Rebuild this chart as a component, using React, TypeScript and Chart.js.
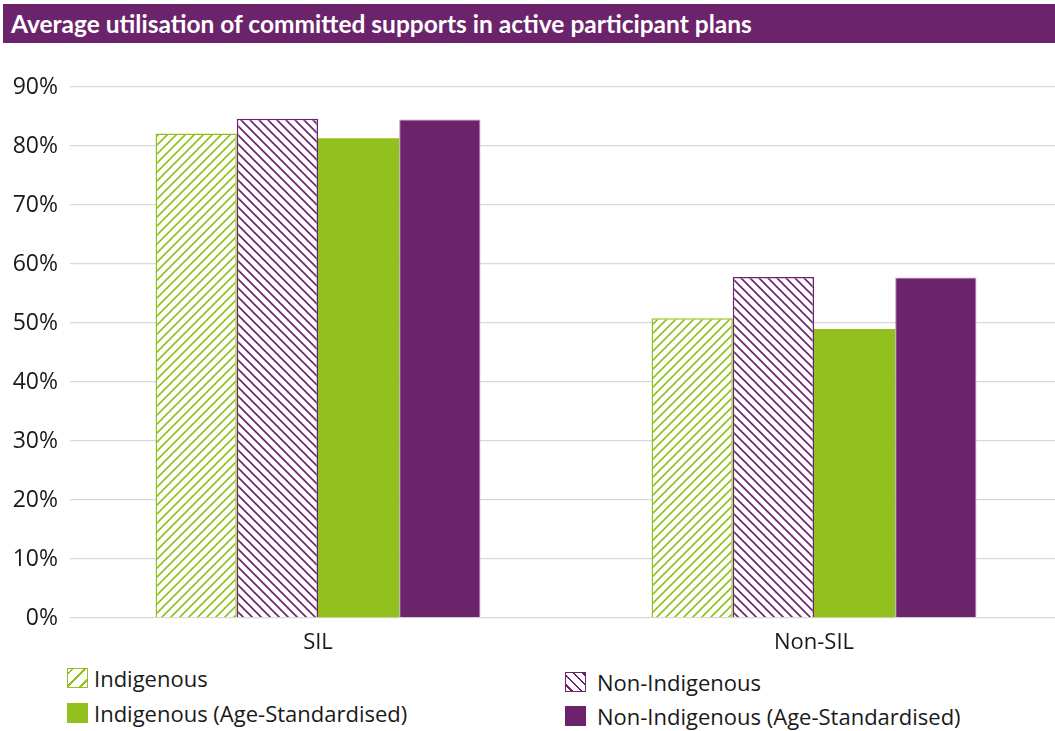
import React, { useEffect, useRef } from "react";
import { Chart, registerables } from "chart.js";

Chart.register(...registerables);

const categories = ["SIL", "Non-SIL"];
const indigenous = [82.1, 50.8];
const nonIndigenous = [84.6, 57.8];
const indigenousAS = [81.3, 49.0];
const nonIndigenousAS = [84.5, 57.7];
const seriesNames = [
  "Indigenous",
  "Non-Indigenous",
  "Indigenous (Age-Standardised)",
  "Non-Indigenous (Age-Standardised)",
];
const yTicks = [0, 10, 20, 30, 40, 50, 60, 70, 80, 90];
const title = "Average utilisation of committed supports in active participant plans";

const GREEN = "#92C01F";
const PURPLE = "#6B246C";
const FONT = "'Open Sans', Lato, sans-serif";
const TITLE_FONT = "Lato, 'Open Sans', sans-serif";

function makeHatch(color: string, dir: "up" | "down") {
  const size = 9;
  const c = document.createElement("canvas");
  c.width = size;
  c.height = size;
  const ctx = c.getContext("2d")!;
  ctx.fillStyle = "#ffffff";
  ctx.fillRect(0, 0, size, size);
  ctx.strokeStyle = color;
  ctx.lineWidth = 1.6;
  ctx.beginPath();
  if (dir === "up") {
    ctx.moveTo(-1, size + 1);
    ctx.lineTo(size + 1, -1);
    ctx.moveTo(-1, 1);
    ctx.lineTo(1, -1);
    ctx.moveTo(size - 1, size + 1);
    ctx.lineTo(size + 1, size - 1);
  } else {
    ctx.moveTo(-1, -1);
    ctx.lineTo(size + 1, size + 1);
    ctx.moveTo(size - 1, -1);
    ctx.lineTo(size + 1, 1);
    ctx.moveTo(-1, size - 1);
    ctx.lineTo(1, size + 1);
  }
  ctx.stroke();
  return ctx.createPattern(c, "repeat")!;
}

function LegendBox({ kind, gap }: { kind: number; gap: number }) {
  const style: React.CSSProperties = {
    width: 21,
    height: 20,
    boxSizing: "border-box",
    display: "inline-block",
    marginRight: gap,
    flex: "none",
  };
  if (kind === 0) {
    style.border = `1.5px solid ${GREEN}`;
    style.background = `repeating-linear-gradient(-45deg, #fff 0 4px, ${GREEN} 4px 6px, #fff 6px 9px)`;
  } else if (kind === 1) {
    style.border = `1.5px solid ${PURPLE}`;
    style.background = `repeating-linear-gradient(45deg, #fff 0 3px, ${PURPLE} 3px 5px, #fff 5px 7px)`;
  } else if (kind === 2) {
    style.background = GREEN;
  } else {
    style.background = PURPLE;
  }
  return <span style={style} />;
}

export default function App() {
  const ref = useRef<HTMLCanvasElement>(null);
  useEffect(() => {
    const ctx = ref.current!.getContext("2d")!;
    const hatchGreen = makeHatch(GREEN, "up");
    const hatchPurple = makeHatch(PURPLE, "down");
    const chart = new Chart(ctx, {
      type: "bar",
      data: {
        labels: categories,
        datasets: [
          {
            label: seriesNames[0],
            data: indigenous,
            backgroundColor: hatchGreen,
            borderColor: GREEN,
            borderWidth: 1.5,
          },
          {
            label: seriesNames[1],
            data: nonIndigenous,
            backgroundColor: hatchPurple,
            borderColor: PURPLE,
            borderWidth: 1.5,
          },
          {
            label: seriesNames[2],
            data: indigenousAS,
            backgroundColor: GREEN,
            borderWidth: 0,
          },
          {
            label: seriesNames[3],
            data: nonIndigenousAS,
            backgroundColor: PURPLE,
            borderColor: "#B58AB5",
            borderWidth: 1,
          },
        ],
      },
      options: {
        animation: false,
        responsive: false,
        maintainAspectRatio: false,
        layout: { padding: { top: 37, right: 0, left: 0, bottom: 0 } },
        datasets: { bar: { barPercentage: 1, categoryPercentage: 0.655 } },
        plugins: {
          legend: { display: false },
          tooltip: { enabled: false },
          title: { display: false },
        },
        scales: {
          x: {
            grid: { display: false },
            border: { display: false },
            ticks: {
              color: "#1a1a1a",
              font: { family: FONT, size: 22 },
              padding: 4,
            },
            afterFit: (s: any) => {
              s.height = 42;
            },
          },
          y: {
            min: 0,
            max: 90,
            afterBuildTicks: (s: any) => {
              s.ticks = yTicks.map((v) => ({ value: v }));
            },
            grid: { color: "#d9d9d9", lineWidth: 1.3, drawTicks: false },
            border: { display: false },
            ticks: {
              color: "#1a1a1a",
              font: { family: FONT, size: 23 },
              padding: 12,
              callback: (v: any) => `${v}%`,
            },
            afterFit: (s: any) => {
              s.width = 70;
            },
          },
        },
      },
    });
    return () => chart.destroy();
  }, []);

  const legendItem = (i: number, left: number, top: number, gap: number) => (
    <div
      style={{
        position: "absolute",
        left,
        top,
        height: 30,
        display: "flex",
        alignItems: "center",
        fontFamily: FONT,
        fontSize: 22,
        color: "#1a1a1a",
        whiteSpace: "nowrap",
        lineHeight: "30px",
      }}
    >
      <LegendBox kind={i} gap={gap} />
      {seriesNames[i]}
    </div>
  );

  return (
    <div
      style={{
        position: "fixed",
        left: 0,
        top: 0,
        width: 1055,
        height: 731,
        overflow: "hidden",
        background: "#fff",
      }}
    >
      <div
        style={{
          position: "absolute",
          left: 3,
          top: 4,
          width: 1052,
          height: 39,
          background: PURPLE,
          color: "#fff",
          fontFamily: TITLE_FONT,
          fontWeight: 700,
          fontSize: 24.5,
          lineHeight: "39px",
          paddingLeft: 8,
          boxSizing: "border-box",
          whiteSpace: "nowrap",
        }}
      >
        {title}
      </div>
      <canvas
        ref={ref}
        width={1062}
        height={610}
        style={{ position: "absolute", left: 0, top: 50, width: 1062, height: 610 }}
      />
      {legendItem(0, 67, 663, 6)}
      {legendItem(2, 67, 698, 6)}
      {legendItem(1, 565, 667, 11)}
      {legendItem(3, 565, 701, 11)}
    </div>
  );
}
